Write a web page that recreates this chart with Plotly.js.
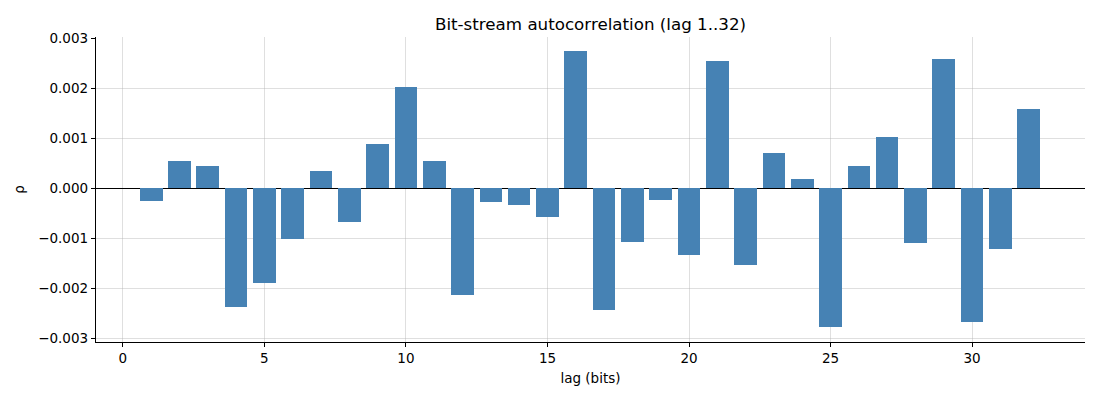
<!DOCTYPE html>
<html>
<head>
<meta charset="utf-8">
<script src="https://cdn.plot.ly/plotly-3.0.1.min.js"></script>
<style>
  body { margin: 0; background: white; }
  #chart { width: 1100px; height: 400px; }
</style>
</head>
<body>
<div id="chart"></div>
<script>
// lag 1..32
var lags = [];
for (var i = 1; i <= 32; i++) lags.push(i);

var rho = [
  -0.000253, 0.000547, 0.000447, -0.002387, -0.001893, -0.001027, 0.000347, -0.000687,
  0.000887, 0.002027, 0.000547, -0.002147, -0.000287, -0.000347, -0.000587, 0.002747,
  -0.002447, -0.001087, -0.000247, -0.001347, 0.002547, -0.001547, 0.000707, 0.000187,
  -0.002787, 0.000447, 0.001027, -0.001107, 0.002587, -0.002687, -0.001227, 0.001587
];

var font = 'DejaVu Sans, sans-serif';

var data = [{
  type: 'bar',
  x: lags,
  y: rho,
  width: 0.8,
  marker: { color: '#4682b4', line: { width: 0 } },
  hoverinfo: 'x+y'
}];

var layout = {
  width: 1100,
  height: 400,
  margin: { l: 96, r: 15, t: 37, b: 58 },
  paper_bgcolor: 'white',
  plot_bgcolor: 'white',
  showlegend: false,
  title: {
    text: 'Bit-stream autocorrelation (lag 1..32)',
    font: { family: font, size: 16.7, color: 'black' },
    xref: 'paper', x: 0.5, xanchor: 'center',
    yref: 'container', y: 0.94, yanchor: 'middle'
  },
  xaxis: {
    range: [-0.95, 33.99],
    dtick: 5,
    tick0: 0,
    showgrid: true,
    gridcolor: 'rgba(176,176,176,0.4)',
    gridwidth: 1,
    zeroline: false,
    showline: true,
    linecolor: 'black',
    linewidth: 1.2,
    ticks: 'outside',
    ticklen: 4,
    tickcolor: 'black',
    tickfont: { family: font, size: 13.5, color: 'black' },
    title: { text: 'lag (bits)', font: { family: font, size: 13.5, color: 'black' }, standoff: 8 },
    layer: 'above traces'
  },
  yaxis: {
    range: [-0.00308, 0.00302],
    dtick: 0.001,
    tick0: 0,
    tickformat: '.3f',
    showgrid: true,
    gridcolor: 'rgba(176,176,176,0.4)',
    gridwidth: 1,
    zeroline: true,
    zerolinecolor: 'black',
    zerolinewidth: 1,
    showline: true,
    linecolor: 'black',
    linewidth: 1.2,
    ticks: 'outside',
    ticklen: 4,
    tickcolor: 'black',
    tickfont: { family: font, size: 13.5, color: 'black' },
    title: { text: 'ρ', font: { family: font, size: 13.5, color: 'black' }, standoff: 10 },
    layer: 'above traces'
  },
  bargap: 0
};

Plotly.newPlot('chart', data, layout, { displayModeBar: false, staticPlot: true });
</script>
</body>
</html>
